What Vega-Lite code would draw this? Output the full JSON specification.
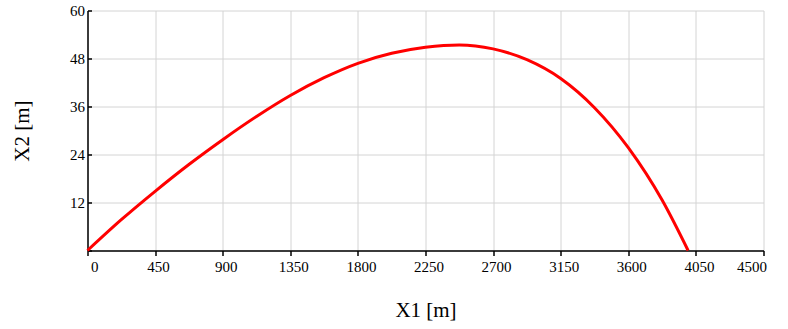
{
  "$schema": "https://vega.github.io/schema/vega-lite/v6.json",
  "autosize": "none",
  "padding": {"left": 87.5, "top": 10.5, "right": 24.5, "bottom": 78.5},
  "width": 676,
  "height": 240,
  "background": "white",
  "config": {
    "view": {"stroke": null},
    "font": "Liberation Serif",
    "axis": {
      "labelFont": "Liberation Serif",
      "titleFont": "Liberation Serif",
      "labelFontSize": 15,
      "titleFontSize": 21,
      "titleFontWeight": "normal",
      "labelColor": "black",
      "titleColor": "black",
      "domainColor": "black",
      "domainWidth": 1.5,
      "tickColor": "black",
      "tickWidth": 1.5,
      "gridColor": "#d4d4d4",
      "gridWidth": 1
    }
  },
  "data": {
    "values": [
      {"x1": 0, "x2": 0},
      {"x1": 225, "x2": 7.7},
      {"x1": 450, "x2": 14.8},
      {"x1": 675, "x2": 21.5},
      {"x1": 900, "x2": 27.7},
      {"x1": 1125, "x2": 33.5},
      {"x1": 1350, "x2": 38.75},
      {"x1": 1575, "x2": 43.2},
      {"x1": 1800, "x2": 46.8},
      {"x1": 2025, "x2": 49.3},
      {"x1": 2250, "x2": 50.8},
      {"x1": 2475, "x2": 51.4},
      {"x1": 2700, "x2": 50.4},
      {"x1": 2925, "x2": 47.7},
      {"x1": 3150, "x2": 43.0},
      {"x1": 3375, "x2": 35.7},
      {"x1": 3600, "x2": 25.7},
      {"x1": 3825, "x2": 12.6},
      {"x1": 3998, "x2": 0}
    ]
  },
  "mark": {"type": "line", "color": "#ff0000", "strokeWidth": 3, "interpolate": "monotone", "clip": false},
  "encoding": {
    "x": {
      "field": "x1",
      "type": "quantitative",
      "scale": {"domain": [0, 4500], "nice": false, "zero": false},
      "axis": {
        "title": "X1 [m]",
        "values": [0, 450, 900, 1350, 1800, 2250, 2700, 3150, 3600, 4050, 4500],
        "format": "d",
        "tickSize": 5,
        "labelPadding": 4,
        "labelOffset": 3,
        "titlePadding": 25
      }
    },
    "y": {
      "field": "x2",
      "type": "quantitative",
      "scale": {"domain": [0, 60], "nice": false, "zero": false},
      "axis": {
        "title": "X2 [m]",
        "values": [0, 12, 24, 36, 48, 60],
        "labelExpr": "datum.value == 0 ? '' : datum.label",
        "tickSize": -4,
        "labelPadding": 7,
        "titlePadding": 37
      }
    }
  }
}
